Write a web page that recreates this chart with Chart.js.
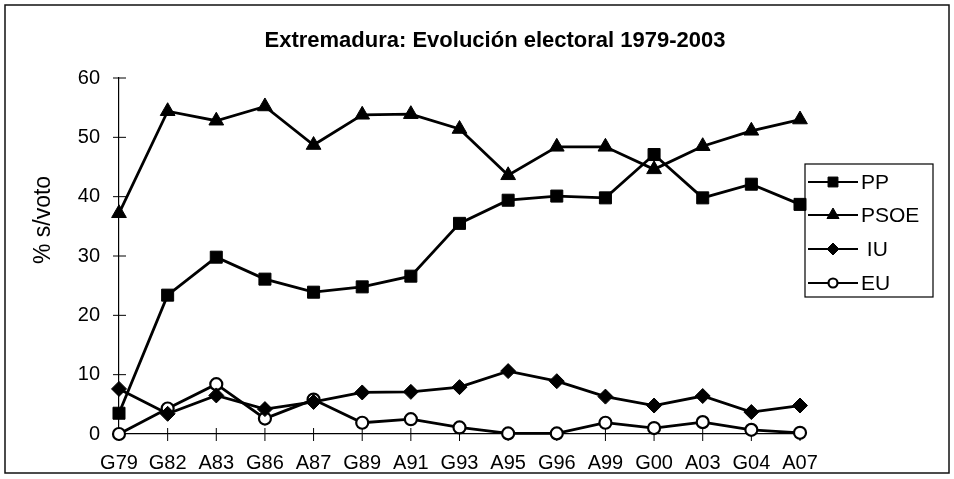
<!DOCTYPE html>
<html>
<head>
<meta charset="utf-8">
<script src="https://cdn.jsdelivr.net/npm/chart.js@4.4.0/dist/chart.umd.min.js"></script>
<style>
  html, body { margin: 0; padding: 0; background: #fff; }
  canvas { display: block; }
</style>
</head>
<body>
<canvas id="electoralChart" width="954" height="479"></canvas>
<script>
// data
const elections = ['G79', 'G82', 'A83', 'G86', 'A87', 'G89', 'A91', 'G93', 'A95', 'G96', 'A99', 'G00', 'A03', 'G04', 'A07'];
const ppValues   = [3.5, 23.4, 29.8, 26.1, 23.9, 24.8, 26.6, 35.5, 39.4, 40.1, 39.8, 47.1, 39.8, 42.1, 38.7];
const psoeValues = [37.2, 54.4, 52.8, 55.2, 48.7, 53.8, 53.9, 51.4, 43.6, 48.4, 48.4, 44.6, 48.5, 51.1, 53.0];
const iuValues   = [7.6, 3.4, 6.5, 4.2, 5.4, 7.0, 7.1, 7.9, 10.6, 8.9, 6.3, 4.8, 6.4, 3.7, 4.8];
const euValues   = [0.0, 4.3, 8.4, 2.6, 5.8, 1.9, 2.5, 1.1, 0.1, 0.1, 1.9, 1.0, 2.0, 0.7, 0.2];
const yTicks = [0, 10, 20, 30, 40, 50, 60];

const chartTitle = 'Extremadura: Evolución electoral 1979-2003';
const yTitle = '% s/voto';
const FONT = "'Liberation Sans', Arial, sans-serif";

// outer frame, titles, crossing tick marks and the boxed legend
const decorPlugin = {
  id: 'decor',
  beforeDatasetsDraw(chart) {
    const ctx = chart.ctx;
    const x = chart.scales.x, y = chart.scales.y;
    ctx.save();
    ctx.strokeStyle = '#000';
    ctx.lineWidth = 1;
    yTicks.forEach(v => {
      const py = y.getPixelForValue(v);
      ctx.beginPath();
      ctx.moveTo(x.left - 6, py);
      ctx.lineTo(x.left + 7, py);
      ctx.stroke();
    });
    elections.forEach((lab, i) => {
      const px = x.getPixelForValue(i);
      ctx.beginPath();
      ctx.moveTo(px, y.bottom - 6);
      ctx.lineTo(px, y.bottom + 7);
      ctx.stroke();
    });
    ctx.restore();
  },
  afterDraw(chart) {
    const ctx = chart.ctx;
    ctx.save();
    // frame
    ctx.strokeStyle = '#111';
    ctx.lineWidth = 1.5;
    ctx.strokeRect(5, 5, 944, 468);

    // title
    ctx.fillStyle = '#000';
    ctx.font = 'bold 22px ' + FONT;
    ctx.textAlign = 'center';
    ctx.textBaseline = 'alphabetic';
    ctx.fillText(chartTitle, 495, 47);

    // y axis title
    ctx.font = '23px ' + FONT;
    ctx.translate(50, 220);
    ctx.rotate(-Math.PI / 2);
    ctx.fillText(yTitle, 0, 0);
    ctx.setTransform(1, 0, 0, 1, 0, 0);

    // legend
    ctx.lineWidth = 1.2;
    ctx.strokeStyle = '#000';
    ctx.strokeRect(805, 164, 128, 133);
    const rows = [182, 215, 249, 283];
    chart.data.datasets.forEach((ds, i) => {
      const ry = rows[i];
      ctx.strokeStyle = '#000';
      ctx.lineWidth = 2.2;
      ctx.beginPath();
      ctx.moveTo(808, ry);
      ctx.lineTo(858, ry);
      ctx.stroke();
      ctx.fillStyle = ds.pointBackgroundColor;
      ctx.strokeStyle = '#000';
      ctx.lineWidth = ds.pointBorderWidth;
      Chart.helpers.drawPoint(ctx, {
        pointStyle: ds.pointStyle,
        radius: ds.pointRadius - 1.5,
        rotation: 0,
        borderWidth: ds.pointBorderWidth
      }, 833, ry);
      ctx.fillStyle = '#000';
      ctx.font = '21px ' + FONT;
      ctx.textAlign = 'left';
      ctx.textBaseline = 'middle';
      ctx.fillText(ds.label === 'IU' ? ' IU' : ds.label, 861, ry + 1);
    });
    ctx.restore();
  }
};

const makeSeries = (label, data, style, radius, fill) => ({
  label: label,
  data: data,
  borderColor: '#000',
  borderWidth: 2.8,
  pointStyle: style,
  pointRadius: radius,
  pointHoverRadius: radius,
  pointBackgroundColor: fill,
  pointBorderColor: '#000',
  pointBorderWidth: fill === '#fff' ? 2.2 : 1,
  tension: 0,
  fill: false,
  clip: false
});

new Chart(document.getElementById('electoralChart').getContext('2d'), {
  type: 'line',
  data: {
    labels: elections,
    datasets: [
      makeSeries('PP', ppValues, 'rect', 8.5, '#000'),
      makeSeries('PSOE', psoeValues, 'triangle', 8.5, '#000'),
      makeSeries('IU', iuValues, 'rectRot', 7.5, '#000'),
      makeSeries('EU', euValues, 'circle', 6, '#fff')
    ]
  },
  options: {
    responsive: false,
    animation: false,
    devicePixelRatio: 1,
    layout: { padding: { left: 5, right: 154, top: 78, bottom: 5 } },
    plugins: {
      legend: { display: false },
      title: { display: false },
      tooltip: { enabled: false }
    },
    scales: {
      x: {
        type: 'category',
        offset: false,
        grid: { display: true, drawOnChartArea: false, drawTicks: false },
        border: { display: true, color: '#000', width: 1.2 },
        ticks: {
          color: '#000',
          font: { family: FONT, size: 20 },
          padding: 17,
          maxRotation: 0,
          autoSkip: false
        },
        afterFit: s => { s.height = 40; }
      },
      y: {
        min: 0,
        max: 60,
        grid: { display: true, drawOnChartArea: false, drawTicks: false },
        border: { display: true, color: '#000', width: 1.2 },
        ticks: {
          stepSize: 10,
          color: '#000',
          font: { family: FONT, size: 20 },
          padding: 19
        },
        afterFit: s => { s.width = 114; }
      }
    }
  },
  plugins: [decorPlugin]
});
</script>
</body>
</html>
